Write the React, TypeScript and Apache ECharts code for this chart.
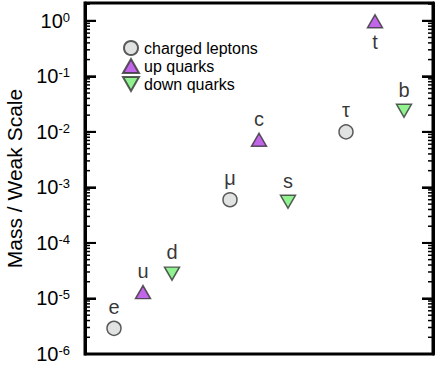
import React, { useEffect, useRef } from "react";
import * as echarts from "echarts";

const FONT = '"Liberation Sans", Helvetica, Arial, sans-serif';

// slot positions along the (hidden) x axis
const leptonNames = ["e", "μ", "τ"];
const leptonSlots = [1, 5, 9];
const leptonValues = [2.9e-6, 6.0e-4, 1.0e-2];

const upNames = ["u", "c", "t"];
const upSlots = [2, 6, 10];
const upValues = [1.3e-5, 7.2e-3, 0.98];

const downNames = ["d", "s", "b"];
const downSlots = [3, 7, 11];
const downValues = [2.8e-5, 5.5e-4, 0.024];

const seriesNames = ["charged leptons", "up quarks", "down quarks"];
const decadeExponents = [-6, -5, -4, -3, -2, -1, 0];
const minorMultipliers = [2, 3, 4, 5, 6, 7, 8, 9];

const X_MIN = 0;
const X_MAX = 12;
const Y_MIN = -6;
const Y_MAX = 0.32;

function points(names: string[], slots: number[], values: number[]) {
  return names.map((n, i) => ({
    name: n,
    value: [slots[i], Math.log10(values[i])],
    label: { position: n === "t" ? "bottom" : "top" },
  }));
}

export default function App() {
  const ref = useRef<HTMLDivElement>(null);
  useEffect(() => {
    if (!ref.current) return;
    const chart = echarts.init(ref.current, null, { renderer: "svg" });

    // [log10 value, isMajor]
    const ticks: number[][] = [];
    decadeExponents.forEach((e) => {
      ticks.push([e, 1]);
      minorMultipliers.forEach((k) => {
        const v = Math.log10(k) + e;
        if (v < Y_MAX) ticks.push([v, 0]);
      });
    });

    const markerStyle = { borderColor: "#333", borderWidth: 1.5 };
    const labelStyle = {
      show: true,
      formatter: (p: any) => p.name,
      fontSize: 20,
      fontFamily: FONT,
      color: "#000",
      distance: 4,
    };

    const yBase = {
      type: "value",
      min: Y_MIN,
      max: Y_MAX,
      interval: 1,
      splitLine: { show: false },
      axisLine: { show: true, lineStyle: { color: "#000", width: 3 } },
      axisTick: { show: true, inside: true, length: 11, lineStyle: { color: "#000", width: 2 } },
    };

    chart.setOption({
      animation: false,
      grid: {
        left: 85,
        top: 3,
        right: 3,
        bottom: 11,
        show: true,
        borderColor: "#000",
        borderWidth: 3,
        containLabel: false,
        outerBoundsMode: "none",
      },
      legend: {
        data: seriesNames,
        orient: "vertical",
        left: 117,
        top: 35,
        itemWidth: 16,
        itemHeight: 14,
        itemGap: 2,
        textStyle: { fontSize: 16, fontFamily: FONT, color: "#000" },
      },
      xAxis: {
        type: "value",
        min: X_MIN,
        max: X_MAX,
        show: false,
      },
      yAxis: [
        {
          ...yBase,
          position: "left",
          name: "Mass / Weak Scale",
          nameLocation: "middle",
          nameGap: 60,
          nameTextStyle: { fontSize: 21, fontFamily: FONT, color: "#000" },
          axisLabel: {
            margin: 15,
            showMaxLabel: false,
            formatter: (v: number) =>
              Math.abs(v - Math.round(v)) < 1e-6 ? `{b|10}{s|${Math.round(v)}}` : "",
            rich: {
              b: { fontSize: 20, fontFamily: FONT, color: "#000" },
              s: { fontSize: 13, fontFamily: FONT, color: "#000", verticalAlign: "top" },
            },
          },
        },
        {
          ...yBase,
          position: "right",
          axisLabel: { show: false },
        },
      ],
      series: [
        {
          name: seriesNames[0],
          type: "scatter",
          symbol: "circle",
          symbolSize: 14,
          itemStyle: { color: "#d9dcdc", ...markerStyle },
          label: labelStyle,
          data: points(leptonNames, leptonSlots, leptonValues),
        },
        {
          name: seriesNames[1],
          type: "scatter",
          symbol: "triangle",
          symbolSize: [15, 13],
          itemStyle: { color: "#b13ee4", ...markerStyle },
          label: labelStyle,
          data: points(upNames, upSlots, upValues),
        },
        {
          name: seriesNames[2],
          type: "scatter",
          symbol: "path://M0,0L16,0L8,14Z",
          symbolSize: [15, 13],
          itemStyle: { color: "#74f074", ...markerStyle },
          label: labelStyle,
          data: points(downNames, downSlots, downValues),
        },
        {
          type: "custom",
          name: "ticks",
          data: ticks.map((t) => [(X_MIN + X_MAX) / 2, t[0], t[1]]),
          renderItem: (params: any, api: any) => {
            const left = api.coord([X_MIN, api.value(1)]);
            const right = api.coord([X_MAX, api.value(1)]);
            const major = api.value(2) === 1;
            const len = major ? 11 : 5;
            const h = major ? 2 : 1.5;
            const style = { fill: "#000" };
            return {
              type: "group",
              children: [
                { type: "rect", shape: { x: left[0], y: left[1] - h / 2, width: len, height: h }, style },
                { type: "rect", shape: { x: right[0] - len, y: right[1] - h / 2, width: len, height: h }, style },
              ],
            };
          },
        },
      ],
    });
    return () => chart.dispose();
  }, []);
  return (
    <div
      ref={ref}
      style={{ position: "fixed", left: 0, top: 0, width: 436, height: 365, background: "#fff" }}
    />
  );
}
